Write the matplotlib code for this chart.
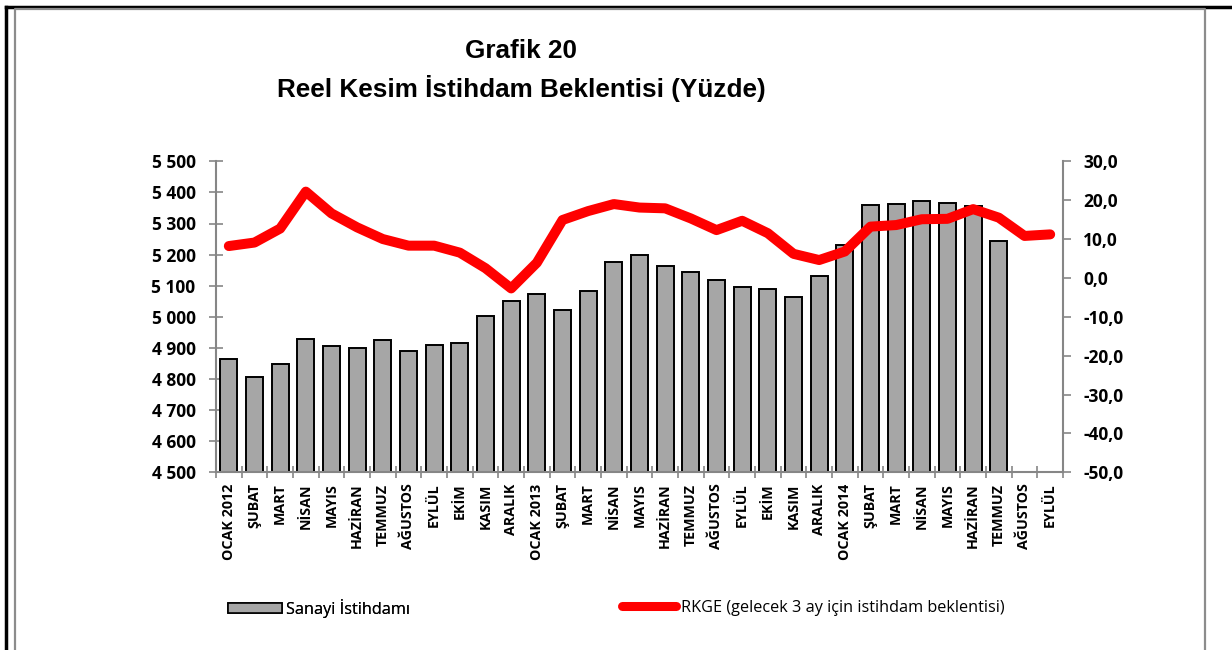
import matplotlib
matplotlib.use("Agg")
import matplotlib.pyplot as plt
from matplotlib.lines import Line2D
from matplotlib.patches import Patch
import numpy as np

categories = ["OCAK 2012", "ŞUBAT", "MART", "NİSAN", "MAYIS", "HAZİRAN", "TEMMUZ",
              "AĞUSTOS", "EYLÜL", "EKİM", "KASIM", "ARALIK",
              "OCAK 2013", "ŞUBAT", "MART", "NİSAN", "MAYIS", "HAZİRAN", "TEMMUZ",
              "AĞUSTOS", "EYLÜL", "EKİM", "KASIM", "ARALIK",
              "OCAK 2014", "ŞUBAT", "MART", "NİSAN", "MAYIS", "HAZİRAN", "TEMMUZ",
              "AĞUSTOS", "EYLÜL"]

sanayi = [4863, 4807, 4849, 4929, 4907, 4899, 4925, 4891, 4910, 4916, 5003, 5051,
          5072, 5022, 5082, 5175, 5199, 5162, 5145, 5117, 5096, 5089, 5064, 5130,
          5231, 5359, 5364, 5372, 5365, 5355, 5243]

rkge = [8.2, 9.1, 12.7, 22.2, 16.6, 13.0, 10.0, 8.3, 8.3, 6.5, 2.5, -2.7,
        3.9, 14.9, 17.2, 19.0, 18.1, 17.9, 15.3, 12.3, 14.7, 11.5, 6.2, 4.6,
        6.8, 13.2, 13.6, 15.1, 15.2, 17.7, 15.5, 10.8, 11.2]

left_ticks = [4500, 4600, 4700, 4800, 4900, 5000, 5100, 5200, 5300, 5400, 5500]
right_ticks = [-50, -40, -30, -20, -10, 0, 10, 20, 30]

title_1 = "Grafik 20"
title_2 = "Reel Kesim İstihdam Beklentisi (Yüzde)"
bar_label = "Sanayi İstihdamı"
line_label = "RKGE (gelecek 3 ay için istihdam beklentisi)"

GRAY = "#868686"
TICKFONT = "Open Sans"

fig = plt.figure(figsize=(12.32, 6.5), dpi=100)
W, H = 1232, 650
ax = fig.add_axes([216 / W, 1 - 472.3 / H, (1063 - 216) / W, (472.3 - 161.3) / H])
ax2 = ax.twinx()

x = np.arange(len(categories))
ax.bar(x[:len(sanayi)], sanayi, width=0.66, color="#A6A6A6", edgecolor="black",
       linewidth=1.4, zorder=2)
ax.set_ylim(4500, 5500)
ax.set_xlim(-0.5, len(categories) - 0.5)
ax.set_yticks(left_ticks)
ax.set_yticklabels([f"{v:,}".replace(",", " ") for v in left_ticks],
                   fontfamily=TICKFONT, fontweight="bold", fontsize=12.5)

ax.set_xticks(x)
ax.set_xticklabels(categories, rotation=90, fontfamily=TICKFONT, fontweight="bold",
                   fontsize=10.3)
ax.tick_params(axis="x", length=0, pad=8)
ax.set_xticks(np.arange(-0.5, len(categories), 1), minor=True)
ax.tick_params(axis="x", which="minor", direction="inout", length=9, color=GRAY, width=1.2)
ax.tick_params(axis="y", direction="inout", length=9.5, color=GRAY, width=1.2, pad=10)

ax2.plot(x, rkge, color="#FF0000", linewidth=7.2, solid_capstyle="round",
         solid_joinstyle="round", zorder=3)
ax2.set_ylim(-50, 30)
ax2.set_yticks(right_ticks)
ax2.set_yticklabels([f"{v:.1f}".replace(".", ",") for v in right_ticks],
                    fontfamily=TICKFONT, fontweight="bold", fontsize=12.5)
ax2.tick_params(axis="y", direction="out", length=5.5, color=GRAY, width=1.2, pad=9)

for a in (ax, ax2):
    a.spines["top"].set_visible(False)
    for s in ("left", "right", "bottom"):
        a.spines[s].set_color(GRAY)
        a.spines[s].set_linewidth(1.5)
ax.spines["right"].set_visible(False)
ax2.spines["left"].set_visible(False)
ax2.spines["bottom"].set_visible(False)

fig.text(521 / W, 1 - 51 / H, title_1, ha="center", va="center",
         fontfamily="Liberation Sans", fontweight="bold", fontsize=18.8)
fig.text(521 / W, 1 - 88 / H, title_2, ha="center", va="center",
         fontfamily="Liberation Sans", fontweight="bold", fontsize=18.8)

LEGFONT = {"family": "Open Sans", "size": 11.7}
h1 = Patch(facecolor="#A6A6A6", edgecolor="black", linewidth=1.2)
leg1 = fig.legend([h1], [bar_label], loc="center left", bbox_to_anchor=(228 / W, 1 - 608 / H),
                  frameon=False, prop=LEGFONT, borderaxespad=0, borderpad=0,
                  handlelength=3.3, handleheight=0.55, handletextpad=0.3)
fig.add_artist(leg1)
h2 = Line2D([], [], color="#FF0000", linewidth=6.5, solid_capstyle="round")
fig.legend([h2], [line_label], loc="center left", bbox_to_anchor=(622 / W, 1 - 608 / H),
           frameon=False, prop=LEGFONT, borderaxespad=0, borderpad=0,
           handlelength=3.35, handletextpad=0.3)

# outer frame
fig.add_artist(Line2D([6 / W, 6 / W], [0, 1 - 7 / H], color="black", linewidth=2.5,
                      transform=fig.transFigure))
fig.add_artist(Line2D([6 / W, 1], [1 - 7 / H, 1 - 7 / H], color="black", linewidth=2.5,
                      transform=fig.transFigure))
fig.add_artist(Line2D([15 / W, 15 / W, 1205 / W, 1205 / W], [0, 1 - 8.5 / H, 1 - 8.5 / H, 0],
                      color="#8C8C8C", linewidth=1.6, transform=fig.transFigure))

fig.savefig("out.png", dpi=100)
